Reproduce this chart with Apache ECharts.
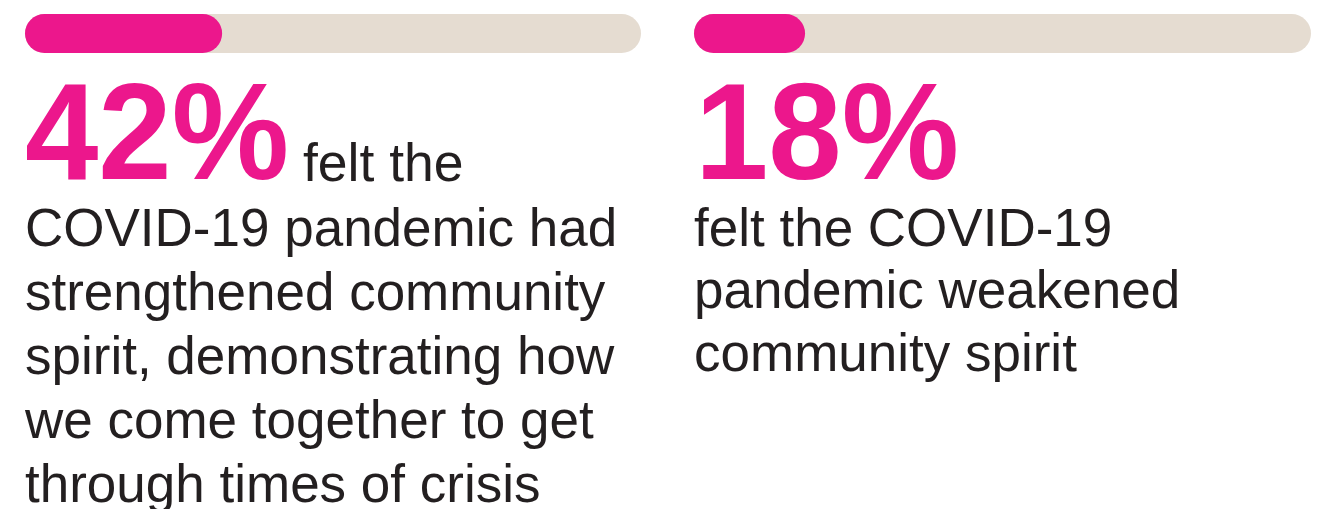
<!DOCTYPE html>
<html>
<head>
<meta charset="utf-8">
<script src="https://cdn.jsdelivr.net/npm/echarts@6/dist/echarts.min.js"></script>
<style>
html,body{margin:0;padding:0;background:#fff;}
#c{width:1332px;height:509px;}
</style>
</head>
<body>
<div id="c"></div>
<script>
// Data
var panels = ['strengthened', 'weakened'];
var barFill = [32, 18];            // pink fill of each track, as drawn (percent)
var bigLabels = ['42%', '18%'];
var leadText = ['felt the', ''];
var bodyLines = [
  ['COVID-19 pandemic had', 'strengthened community', 'spirit, demonstrating how', 'we come together to get', 'through times of crisis'],
  ['felt the COVID-19', 'pandemic weakened', 'community spirit']
];

var PINK = '#EC178C';
var TRACK = '#E5DCD1';
var INK = '#231F20';
var FONT = '"Liberation Sans", Arial, Helvetica, sans-serif';

var chart = echarts.init(document.getElementById('c'), null, {renderer: 'canvas'});

var grids = [
  {left: 25, top: 14, width: 616, height: 39},
  {left: 694, top: 14, width: 617, height: 39}
];
var xAxes = [], yAxes = [], series = [];
panels.forEach(function (p, i) {
  xAxes.push({gridIndex: i, type: 'value', min: 0, max: 100, show: false});
  yAxes.push({gridIndex: i, type: 'category', data: [p], show: false});
  series.push({
    type: 'bar', xAxisIndex: i, yAxisIndex: i,
    data: [barFill[i]], barWidth: 39,
    showBackground: true,
    backgroundStyle: {color: TRACK, borderRadius: 19.5},
    itemStyle: {color: PINK, borderRadius: 19.5},
    silent: true
  });
});

var bigX = [25, 695];
var graphics = [];
for (var i = 0; i < 2; i++) {
  graphics.push({
    type: 'text', x: bigX[i], y: 141, scaleX: 0.956, scaleY: 1,
    style: {text: bigLabels[i], fill: PINK, font: 'bold 138px ' + FONT, verticalAlign: 'middle', align: 'left'}
  });
}
graphics.push({
  type: 'text', x: 303, y: 166.4,
  style: {text: leadText[0], fill: INK, font: '53.5px ' + FONT, verticalAlign: 'middle', align: 'left'}
});
graphics.push({
  type: 'text', x: 25, y: 199.1,
  style: {text: bodyLines[0].join('\n'), fill: INK, font: '53px ' + FONT, lineHeight: 64, verticalAlign: 'top', align: 'left'}
});
graphics.push({
  type: 'text', x: 694, y: 199.8,
  style: {text: bodyLines[1].join('\n'), fill: INK, font: '53px ' + FONT, lineHeight: 62.5, verticalAlign: 'top', align: 'left'}
});

chart.setOption({
  animation: false,
  grid: grids,
  xAxis: xAxes,
  yAxis: yAxes,
  series: series,
  graphic: graphics
});
</script>
</body>
</html>
